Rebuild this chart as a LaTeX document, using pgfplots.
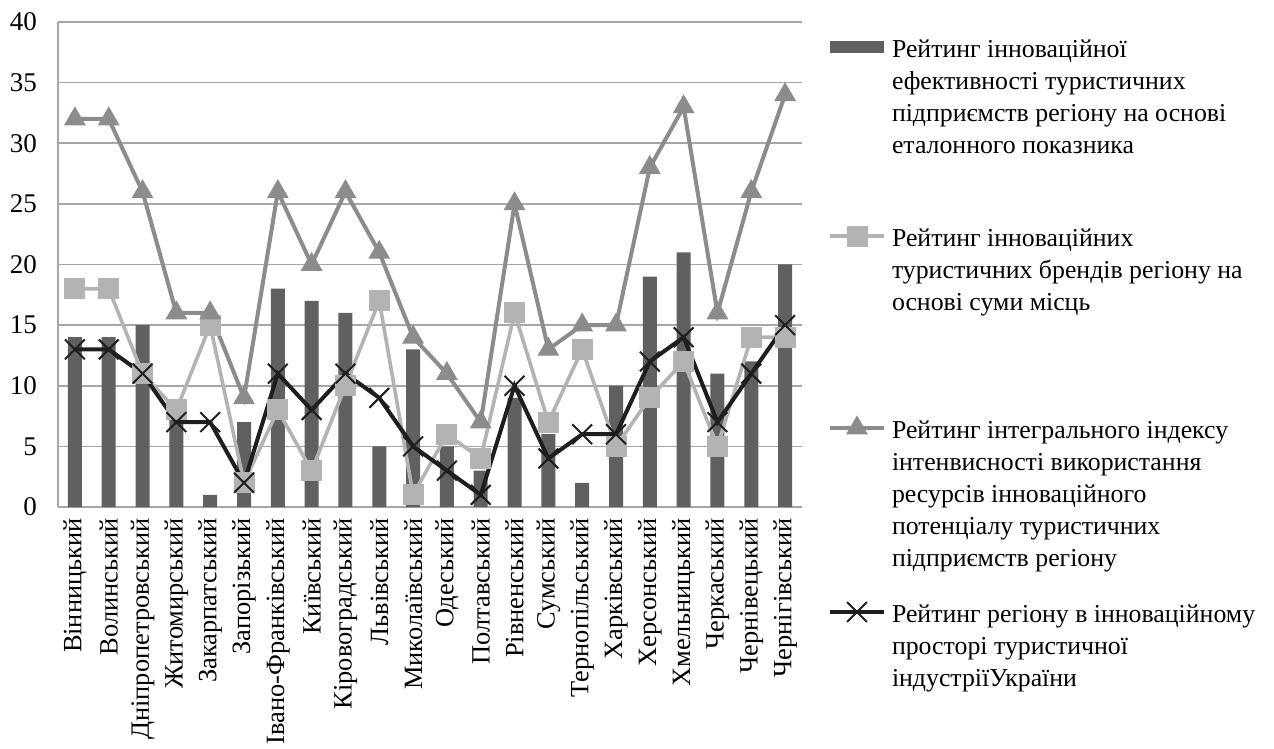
\documentclass[border=0pt]{standalone}
\usepackage{fontspec}
\setmainfont{Liberation Serif}
\usepackage{pgfplots}
\pgfplotsset{compat=1.18}

\definecolor{barc}{HTML}{606060}
\definecolor{sqc}{HTML}{B3B3B3}
\definecolor{tric}{HTML}{8C8C8C}
\definecolor{xc}{HTML}{1E1E1E}
\definecolor{gridc}{HTML}{A6A6A6}

% legend text: first line strut, last line depth sets the gap to the next entry
\newcommand{\legtext}[2]{\parbox[t]{200pt}{\fontsize{12.9}{16}\selectfont\rule{0pt}{12pt}#1\rule[-#2]{0pt}{0pt}}}

\begin{document}
\begin{tikzpicture}
\useasboundingbox (-29pt,-121pt) rectangle (608pt,253.5pt);
\begin{axis}[
    scale only axis,
    width=372pt, height=242.5pt,
    xmin=-0.5, xmax=21.5,
    ymin=0, ymax=40,
    ytick distance=5,
    xtick={0,...,21},
    xticklabels={Вінницький,Волинський,Дніпропетровський,Житомирський,Закарпатський,Запорізький,Івано-Франківський,Київський,Кіровоградський,Львівський,Миколаївський,Одеський,Полтавський,Рівненський,Сумський,Тернопільський,Харківський,Херсонський,Хмельницький,Черкаський,Чернівецький,Чернігівський},
    xticklabel style={font=\fontsize{13.2}{13.2}\selectfont, yshift=-5.5pt, rotate=90, anchor=east, inner sep=0pt},
    yticklabel style={font=\fontsize{13.5}{13.5}\selectfont, xshift=-7pt},
    /pgf/number format/assume math mode=true,
    major tick length=0pt,
    axis x line*=bottom, axis y line*=left,
    axis line style={-, draw=gridc, line width=0.8pt},
    ymajorgrids,
    grid style={draw=gridc, line width=0.8pt},
    legend cell align=left,
    legend style={draw=none, fill=none, inner sep=0pt, outer sep=0pt,
        at={(1,1)}, anchor=north west, xshift=13pt, yshift=-5.5pt,
        column sep=3pt, row sep=0pt,
        cells={anchor=base west},
        nodes={inner sep=0pt, text depth=}},
    lineleg/.style={legend image code/.code={
        \draw[mark repeat=2, mark phase=2, ##1] plot coordinates {(0pt,5pt) (13.5pt,5pt) (27pt,5pt)};}},
]
\addplot[ybar, bar width=7pt, fill=barc, draw=none,
    legend image code/.code={\fill[barc] (0pt,2pt) rectangle (27pt,8pt);}]
  coordinates {(0,14) (1,14) (2,15) (3,8) (4,1) (5,7) (6,18) (7,17) (8,16) (9,5) (10,13)
               (11,5) (12,3) (13,9) (14,6) (15,2) (16,10) (17,19) (18,21) (19,11) (20,12) (21,20)};
\addlegendentry{\legtext{Рейтинг інноваційної\\ефективності туристичних\\підприємств регіону на основі\\еталонного показника}{34.5pt}}

\addplot[lineleg, color=sqc, line width=1.8pt, mark=square*, mark size=5pt,
    mark options={fill=sqc, draw=sqc, line width=0.5pt}]
  coordinates {(0,18) (1,18) (2,11) (3,8) (4,15) (5,2) (6,8) (7,3) (8,10) (9,17) (10,1)
               (11,6) (12,4) (13,16) (14,7) (15,13) (16,5) (17,9) (18,12) (19,5) (20,14) (21,14)};
\addlegendentry{\legtext{Рейтинг інноваційних\\туристичних брендів регіону на\\основі суми місць}{52pt}}

\addplot[lineleg, color=tric, line width=2pt, mark=triangle*, mark size=5.8pt,
    mark options={fill=tric, draw=tric, line width=0.5pt}]
  coordinates {(0,32) (1,32) (2,26) (3,16) (4,16) (5,9) (6,26) (7,20) (8,26) (9,21) (10,14)
               (11,11) (12,7) (13,25) (14,13) (15,15) (16,15) (17,28) (18,33) (19,16) (20,26) (21,34)};
\addlegendentry{\legtext{Рейтинг інтегрального індексу\\інтенвисності використання\\ресурсів інноваційного\\потенціалу туристичних\\підприємств регіону}{16pt}}

\addplot[lineleg, color=xc, line width=2pt, mark=x, mark size=7pt,
    mark options={draw=xc, line width=1pt}]
  coordinates {(0,13) (1,13) (2,11) (3,7) (4,7) (5,2) (6,11) (7,8) (8,11) (9,9) (10,5)
               (11,3) (12,1) (13,10) (14,4) (15,6) (16,6) (17,12) (18,14) (19,7) (20,11) (21,15)};
\addlegendentry{\legtext{Рейтинг регіону в інноваційному\\просторі туристичної\\індустріїУкраїни}{0pt}}
\end{axis}
\end{tikzpicture}
\end{document}
